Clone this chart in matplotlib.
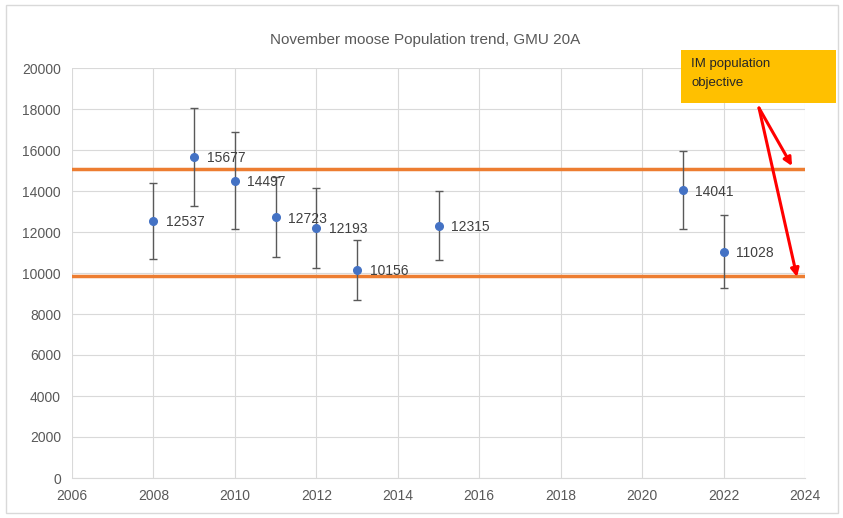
import matplotlib.pyplot as plt
from matplotlib.patches import Rectangle

years = [2008, 2009, 2010, 2011, 2012, 2013, 2015, 2021, 2022]
population = [12537, 15677, 14497, 12723, 12193, 10156, 12315, 14041, 11028]
errors = [1830, 2390, 2360, 1950, 1930, 1460, 1690, 1900, 1780]
objective_low = 9850
objective_high = 15050

plt.rcParams['font.family'] = ['Liberation Sans', 'DejaVu Sans']

fig = plt.figure(figsize=(8.43, 5.18), dpi=100)
ax = fig.add_axes([72 / 843, 1 - 478 / 518, (805 - 72) / 843, (478 - 68) / 518])

# outer chart border
fig.patches.append(Rectangle((6 / 843, 5 / 518), 832 / 843, 508 / 518, transform=fig.transFigure,
                             fill=False, edgecolor='#d9d9d9', linewidth=1))

ax.axhline(objective_high, color='#ED7D31', linewidth=2.5, zorder=2)
ax.axhline(objective_low, color='#ED7D31', linewidth=2.5, zorder=2)

ax.errorbar(years, population, yerr=errors, fmt='o', color='#4472C4', markersize=5.5,
            ecolor='#595959', elinewidth=1, capsize=3, capthick=1, zorder=3)

for x, y in zip(years, population):
    ax.annotate(str(y), (x, y), xytext=(9, -1), textcoords='offset points',
                fontsize=10, color='#404040', va='center', ha='left', zorder=4)

ax.set_xlim(2006, 2024)
ax.set_ylim(0, 20000)
ax.set_xticks(range(2006, 2025, 2))
ax.set_yticks(range(0, 20001, 2000))
ax.grid(True, color='#d9d9d9', linewidth=0.8)
ax.set_axisbelow(True)
for s in ['top', 'right', 'left']:
    ax.spines[s].set_visible(False)
ax.spines['bottom'].set_color('#d9d9d9')
ax.tick_params(length=0, labelsize=10, colors='#595959', pad=8)

fig.text(425 / 843, 1 - 40 / 518, 'November moose Population trend, GMU 20A',
         ha='center', va='center', fontsize=11, color='#595959')

# annotation box
fig.patches.append(Rectangle((681 / 843, 1 - 103 / 518), 155 / 843, 53 / 518,
                             transform=fig.transFigure, facecolor='#FFC000',
                             edgecolor='none', zorder=5))
fig.text(691 / 843, 1 - 64 / 518, 'IM population', fontsize=9.5, color='#262626',
         ha='left', va='center', zorder=6)
fig.text(691 / 843, 1 - 83 / 518, 'objective', fontsize=9.5, color='#262626',
         ha='left', va='center', zorder=6)

for tx, ty in [(792, 166), (797, 277)]:
    ax.annotate('', xy=(tx / 843, 1 - ty / 518), xycoords='figure fraction',
                xytext=(759 / 843, 1 - 108 / 518), textcoords='figure fraction',
                arrowprops=dict(arrowstyle='-|>', color='#FF0000', lw=2.2,
                                mutation_scale=12, shrinkA=0, shrinkB=0),
                annotation_clip=False)

fig.savefig('out.png', dpi=100)
